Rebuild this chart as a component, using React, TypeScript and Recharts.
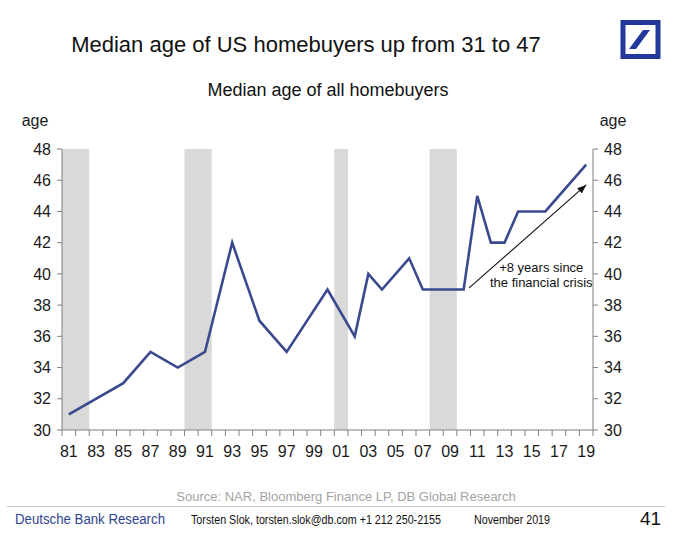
import React from "react";
import {
  LineChart,
  Line,
  XAxis,
  YAxis,
  ReferenceArea,
  ReferenceLine,
  ReferenceDot,
} from "recharts";

// median age of all homebuyers, NAR survey years
const years = [1981, 1985, 1987, 1989, 1991, 1993, 1995, 1997, 2000, 2002, 2003, 2004, 2006, 2007, 2008, 2009, 2010, 2011, 2012, 2013, 2014, 2016, 2019];
const ages = [31, 33, 35, 34, 35, 42, 37, 35, 39, 36, 40, 39, 41, 39, 39, 39, 39, 45, 42, 42, 44, 44, 47];

// recessions (first and last year shaded)
const recessionFrom = [1981, 1990, 2001, 2008];
const recessionTo = [1982, 1991, 2001, 2009];

const yearLabels = [1981, 1983, 1985, 1987, 1989, 1991, 1993, 1995, 1997, 1999, 2001, 2003, 2005, 2007, 2009, 2011, 2013, 2015, 2017, 2019];
const ageTicks = [30, 32, 34, 36, 38, 40, 42, 44, 46, 48];

// annotation arrow, in data units
const arrowFrom = { x: 2010.4, y: 39.1 };
const arrowTo = { x: 2019, y: 45.7 };
const noteAt = { x: 2015.7, y: 40.1 };

const firstYear = 1981;
const lastYear = 2019;
const bandEdges = Array.from({ length: lastYear - firstYear + 2 }, (_, i) => firstYear - 0.5 + i);
const xTicks = [...bandEdges, ...yearLabels].sort((a, b) => a - b);

const data = years.map((y, i) => ({ year: y, age: ages[i] }));

const FONT = "'Liberation Sans', Arial, Helvetica, sans-serif";
const LINE = "#3B4A8E";
const AXIS = "#808080";

function Arrow(props: any) {
  const { x1, y1, x2, y2 } = props;
  return (
    <g>
      <defs>
        <marker id="arrowHead" markerWidth="9" markerHeight="7" refX="9" refY="3.5" orient="auto" markerUnits="userSpaceOnUse">
          <path d="M0,0 L9,3.5 L0,7 Z" fill="#111" />
        </marker>
      </defs>
      <line x1={x1} y1={y1} x2={x2} y2={y2} stroke="#111" strokeWidth={1.1} markerEnd="url(#arrowHead)" />
    </g>
  );
}

function Note(props: any) {
  const { cx, cy } = props;
  return (
    <text x={cx} y={cy} textAnchor="middle" fontSize={13} fill="#111" fontFamily={FONT}>
      <tspan x={cx}>+8 years since</tspan>
      <tspan x={cx} dy={15}>the financial crisis</tspan>
    </text>
  );
}

// year boundaries get a short mark, odd years get a two-digit label
function YearTick(props: any) {
  const { x, y, payload } = props;
  const v = payload.value;
  if (!Number.isInteger(v)) {
    return <line x1={x} x2={x} y1={y} y2={y + 6} stroke={AXIS} strokeWidth={1} />;
  }
  return (
    <text x={x} y={y + 16} dy="0.71em" textAnchor="middle" fontSize={16} fill="#1a1a1a" fontFamily={FONT}>
      {String(v).slice(2)}
    </text>
  );
}

export default function App() {
  return (
    <div style={{ position: "absolute", left: 0, top: 0, width: 685, height: 542, background: "#fff", fontFamily: FONT }}>
      <LineChart
        width={685}
        height={542}
        data={data}
        margin={{ top: 149, right: 42, bottom: 76, left: 17 }}
      >
        <XAxis
          dataKey="year"
          type="number"
          domain={[firstYear - 0.5, lastYear + 0.5]}
          ticks={xTicks}
          tick={YearTick}
          tickSize={0}
          tickMargin={0}
          height={36}
          axisLine={{ stroke: AXIS }}
          tickLine={false}
          interval={0}
          allowDecimals
        />
        <YAxis
          yAxisId="left"
          dataKey="age"
          domain={[30, 48]}
          ticks={ageTicks}
          width={45}
          tickSize={5}
          tickMargin={6}
          tick={{ fontSize: 16, fill: "#1a1a1a", fontFamily: FONT }}
          axisLine={{ stroke: AXIS }}
          tickLine={{ stroke: AXIS }}
          interval={0}
        />
        <YAxis
          yAxisId="right"
          dataKey="age"
          orientation="right"
          domain={[30, 48]}
          ticks={ageTicks}
          width={50}
          tickSize={5}
          tickMargin={6}
          tick={{ fontSize: 16, fill: "#1a1a1a", fontFamily: FONT }}
          axisLine={{ stroke: AXIS }}
          tickLine={{ stroke: AXIS }}
          interval={0}
        />
        {recessionFrom.map((from, i) => (
          <ReferenceArea
            key={from}
            yAxisId="left"
            x1={from - 0.5}
            x2={recessionTo[i] + 0.5}
            y1={30}
            y2={48}
            fill="#d9d9d9"
            fillOpacity={1}
            stroke="none"
          />
        ))}
        <Line
          yAxisId="left"
          dataKey="age"
          type="linear"
          stroke={LINE}
          strokeWidth={2.6}
          dot={false}
          isAnimationActive={false}
        />
        {/* invisible twin so the right axis is bound to a series */}
        <Line
          yAxisId="right"
          dataKey="age"
          stroke="none"
          dot={false}
          activeDot={false}
          isAnimationActive={false}
        />
        <ReferenceLine
          yAxisId="left"
          segment={[arrowFrom, arrowTo]}
          shape={Arrow}
        />
        <ReferenceDot
          yAxisId="left"
          x={noteAt.x}
          y={noteAt.y}
          r={0}
          shape={Note}
        />
      </LineChart>

      <svg width={685} height={542} style={{ position: "absolute", left: 0, top: 0, pointerEvents: "none" }} fontFamily={FONT}>
        <text x={306} y={52} textAnchor="middle" fontSize={22} fill="#111">
          Median age of US homebuyers up from 31 to 47
        </text>
        <text x={328} y={96} textAnchor="middle" fontSize={18} fill="#111">
          Median age of all homebuyers
        </text>
        <text x={35} y={126} textAnchor="middle" fontSize={16} fill="#1a1a1a">age</text>
        <text x={613} y={126} textAnchor="middle" fontSize={16} fill="#1a1a1a">age</text>

        <rect x={623} y={22.5} width={35} height={34} fill="#fff" stroke="#23389B" strokeWidth={5} />
        <polygon points="643,30 650,30 636,49 629,49" fill="#23389B" />

        <text x={346} y={501} textAnchor="middle" fontSize={13} fill="#a3a3a3">
          Source: NAR, Bloomberg Finance LP, DB Global Research
        </text>
        <line x1={7} x2={665} y1={506.5} y2={506.5} stroke="#c8c8c8" strokeWidth={1} />
        <text x={15} y={524} fontSize={14} fill="#2E4390" textLength={150} lengthAdjust="spacingAndGlyphs">
          Deutsche Bank Research
        </text>
        <text x={191} y={524} fontSize={12.5} fill="#111" textLength={250} lengthAdjust="spacingAndGlyphs">
          Torsten Slok, torsten.slok@db.com  +1 212 250-2155
        </text>
        <text x={474} y={524} fontSize={12.5} fill="#111" textLength={76} lengthAdjust="spacingAndGlyphs">
          November 2019
        </text>
        <text x={640} y={525} fontSize={19} fill="#111">41</text>
      </svg>
    </div>
  );
}
